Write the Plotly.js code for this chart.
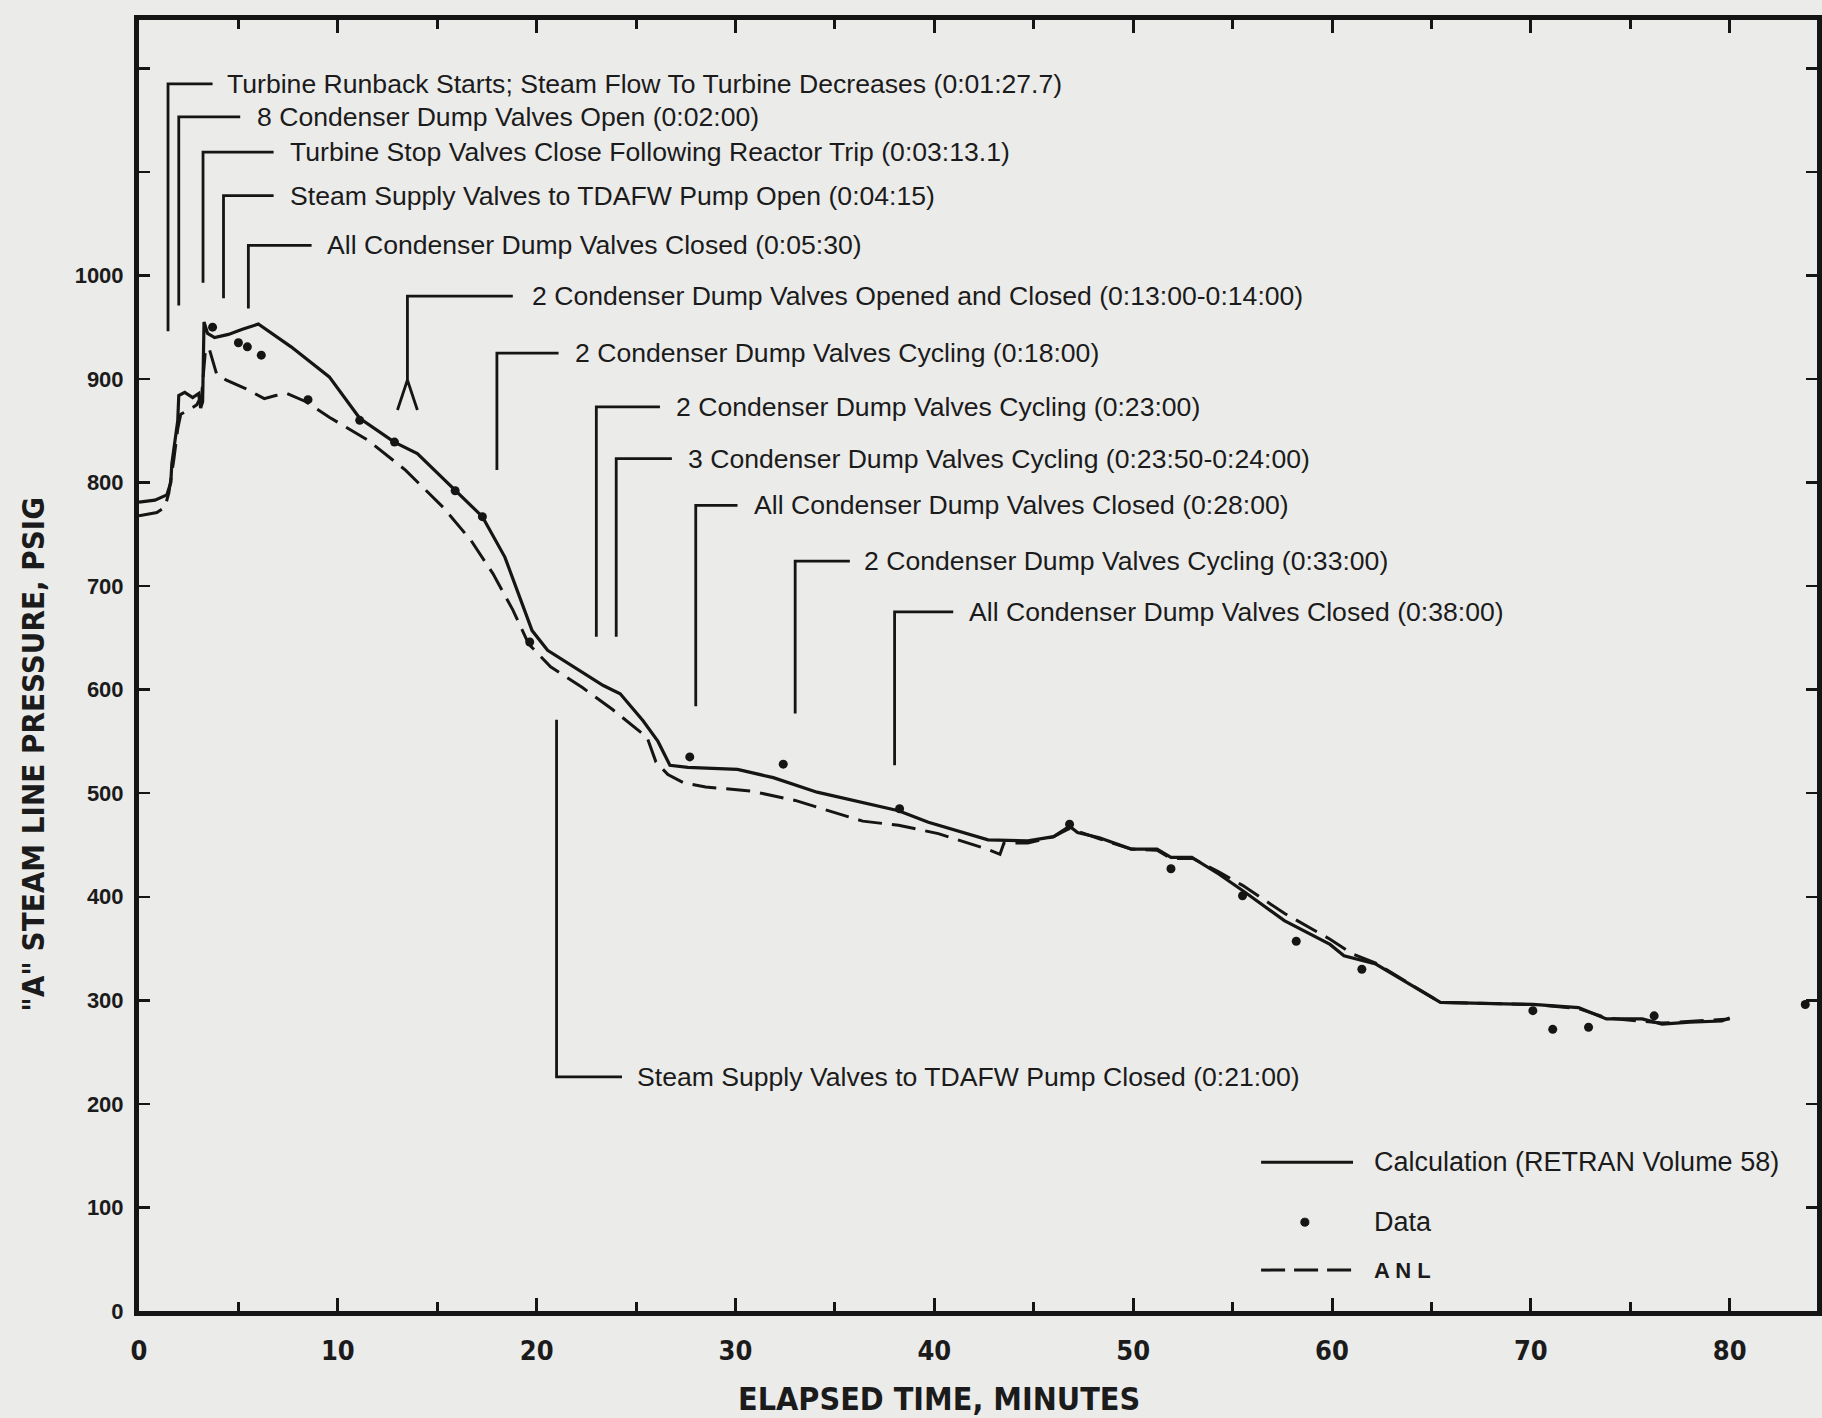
<!DOCTYPE html>
<html>
<head>
<meta charset="utf-8">
<script src="https://cdn.plot.ly/plotly-3.0.1.min.js"></script>
<style>
  html, body { margin: 0; padding: 0; background: #ebebea; }
  #chart { width: 1822px; height: 1418px; }
</style>
</head>
<body>
<div id="chart"></div>
<script>
// RETRAN calculation, steam line "A" pressure (psig) vs elapsed time (min)
const calcTime = [0.0, 0.8, 1.4, 1.6, 1.65, 1.95, 2.0, 2.3, 2.7, 3.0, 3.1, 3.2, 3.27, 3.45, 3.8, 4.5, 5.2, 6.0,
  7.65, 9.57, 11.1, 12.84, 14.0, 15.9, 17.27, 18.4, 19.2, 19.77, 20.55, 22.08, 23.35, 24.2, 24.7, 25.35, 26.1,
  26.7, 27.6, 30.1, 31.9, 34.1, 38.2, 39.7, 42.7, 44.7, 46.0, 46.8, 47.2, 48.3, 49.9, 51.2, 51.9, 52.95, 54.3,
  55.5, 57.6, 59.9, 60.6, 62.2, 65.45, 70.1, 72.4, 73.8, 75.6, 76.6, 78.0, 79.6, 80.0];
const calcPsi = [781, 783, 788, 800, 818, 860, 884, 887, 882, 886, 872, 878, 955, 944, 940, 943, 948, 953,
  931, 902, 862, 839, 828, 793, 767, 728, 686, 657, 638, 619, 604, 596, 585, 570, 550,
  527, 525, 523, 515, 501, 483, 472, 455, 454, 458, 468, 462, 457, 446, 446, 438, 438, 422,
  406, 377, 354, 343, 335, 298, 296, 293, 282, 282, 277, 279, 280, 283];

// ANL calculation
const anlTime = [0.0, 0.9, 1.3, 1.5, 1.75, 1.95, 2.1, 2.5, 2.9, 3.15, 3.35, 3.55, 3.9, 4.37, 5.33, 6.3, 6.87,
  7.45, 8.4, 9.57, 11.5, 13.4, 15.3, 16.7, 17.8, 18.8, 19.6, 20.7, 22.3, 23.8, 25.55, 26.0, 26.6, 27.4, 28.5,
  29.6, 30.8, 33.0, 36.4, 38.2, 40.2, 42.65, 43.3, 43.5, 44.7, 46.0, 46.8, 48.3, 49.9, 51.2, 51.9, 53.0, 54.3,
  55.5, 57.6, 59.9, 61.0, 62.2, 65.45, 70.1, 72.4, 73.8, 76.6, 80.0];
const anlPsi = [768, 771, 776, 790, 822, 852, 866, 870, 875, 884, 930, 928, 905, 899, 891, 881, 884,
  886, 878, 863, 841, 812, 776, 744, 712, 677, 644, 622, 602, 581, 554, 530, 518, 510, 506,
  504, 502, 493, 473, 469, 461, 446, 441, 452, 452, 458, 466, 456, 446, 445, 437, 437, 424,
  411, 384, 359, 345, 336, 298, 296, 292, 283, 278, 282];

// Plant data
const dataTime = [3.7, 5.0, 5.45, 6.15, 8.5, 11.1, 12.85, 15.9, 17.27, 19.65, 27.7, 32.4, 38.25, 46.8,
  51.9, 55.5, 58.2, 61.5, 70.1, 71.1, 72.9, 76.2, 83.8];
const dataPsi = [950, 935, 931, 923, 880, 860, 839, 792, 767, 646, 535, 528, 485, 470,
  427, 401, 357, 330, 290, 272, 274, 285, 296];

// Sequence of events (elapsed minutes)
const eventLabels = [
  'Turbine Runback Starts; Steam Flow To Turbine Decreases (0:01:27.7)',
  '8 Condenser Dump Valves Open (0:02:00)',
  'Turbine Stop Valves Close Following Reactor Trip (0:03:13.1)',
  'Steam Supply Valves to TDAFW Pump Open (0:04:15)',
  'All Condenser Dump Valves Closed (0:05:30)',
  '2 Condenser Dump Valves Opened and Closed (0:13:00-0:14:00)',
  '2 Condenser Dump Valves Cycling (0:18:00)',
  '2 Condenser Dump Valves Cycling (0:23:00)',
  '3 Condenser Dump Valves Cycling (0:23:50-0:24:00)',
  'All Condenser Dump Valves Closed (0:28:00)',
  '2 Condenser Dump Valves Cycling (0:33:00)',
  'All Condenser Dump Valves Closed (0:38:00)',
  'Steam Supply Valves to TDAFW Pump Closed (0:21:00)'
];
const eventTimes = [1.46, 2.0, 3.22, 4.25, 5.5, 13.5, 18, 23, 24, 28, 33, 38, 21];
const eventRange = [13, 14]; // opened and closed interval

const xTickVals = [0, 10, 20, 30, 40, 50, 60, 70, 80];
const xTickText = ['0', '10', '20', '30', '40', '50', '60', '70', '80'];
const yTickVals = [0, 100, 200, 300, 400, 500, 600, 700, 800, 900, 1000, 1100, 1200];
const yTickText = ['0', '100', '200', '300', '400', '500', '600', '700', '800', '900', '1000', '', ''];

// ---- styling / layout ----
const INK = '#151515';
const BG = '#ebebea';
const TEXT_FONT = { family: 'Liberation Sans, Arial, sans-serif', size: 26.6, color: '#1b1b1b' };
const NARROW = 'Liberation Sans Narrow, Arial Narrow, DejaVu Sans Condensed, Liberation Sans, sans-serif';

// callout leader geometry: horizontal leg height (hy), far end of stem (vy),
// end of horizontal leg (hEnd) and label start (tx)
const callouts = [
  { hy: 1185, vy: 946, hEnd: 3.7, tx: 4.3 },
  { hy: 1153, vy: 971, hEnd: 5.09, tx: 5.83 },
  { hy: 1119, vy: 993, hEnd: 6.77, tx: 7.5 },
  { hy: 1077, vy: 978, hEnd: 6.77, tx: 7.5 },
  { hy: 1029, vy: 968, hEnd: 8.68, tx: 9.35 },
  { hy: 980, vy: 899, hEnd: 18.8, tx: 19.68, forkY: 870 },
  { hy: 925, vy: 812, hEnd: 21.1, tx: 21.85 },
  { hy: 873, vy: 651, hEnd: 26.2, tx: 26.9 },
  { hy: 823, vy: 651, hEnd: 26.8, tx: 27.5 },
  { hy: 778, vy: 584, hEnd: 30.1, tx: 30.84 },
  { hy: 724, vy: 577, hEnd: 35.75, tx: 36.38 },
  { hy: 675, vy: 527, hEnd: 40.95, tx: 41.66 },
  { hy: 226, vy: 571, hEnd: 24.29, tx: 24.93 }
];

const shapes = [];
const annotations = [];

callouts.forEach((c, i) => {
  const t = eventTimes[i];
  let p = `M${t},${c.vy} L${t},${c.hy} L${c.hEnd},${c.hy}`;
  if (c.forkY !== undefined) {
    p = `M${eventRange[0]},${c.forkY} L${t},${c.vy} L${eventRange[1]},${c.forkY} ` + p;
  }
  shapes.push({ type: 'path', xref: 'x', yref: 'y', path: p, line: { color: INK, width: 2.8 }, layer: 'above' });
  annotations.push({
    x: c.tx, y: c.hy, xref: 'x', yref: 'y', text: eventLabels[i], showarrow: false,
    xanchor: 'left', yanchor: 'middle', font: TEXT_FONT
  });
});

// key in the lower right
const key = [
  { y: 0.1152, label: 'Calculation (RETRAN Volume 58)', kind: 'solid' },
  { y: 0.0688, label: 'Data', kind: 'dot' },
  { y: 0.0317, label: 'A N L', kind: 'dash' }
];
key.forEach(k => {
  if (k.kind === 'dot') {
    shapes.push({ type: 'circle', xref: 'paper', yref: 'paper', x0: 0.6924, x1: 0.6972,
      y0: k.y - 0.0031, y1: k.y + 0.0031, fillcolor: INK, line: { color: INK, width: 1 } });
  } else {
    shapes.push({ type: 'line', xref: 'paper', yref: 'paper', x0: 0.6687, x1: 0.7235, y0: k.y, y1: k.y,
      line: { color: INK, width: 3, dash: k.kind === 'dash' ? '24px,9px' : 'solid' } });
  }
  annotations.push({
    x: 0.7348, y: k.y, xref: 'paper', yref: 'paper', text: k.label, showarrow: false,
    xanchor: 'left', yanchor: 'middle',
    font: { family: 'Liberation Sans, Arial, sans-serif', size: k.kind === 'dash' ? 22 : 27, color: '#1b1b1b',
            weight: k.kind === 'dash' ? 'bold' : 'normal' }
  });
});

// axis titles
annotations.push({
  x: 0.477, y: -0.068, xref: 'paper', yref: 'paper', text: 'ELAPSED TIME, MINUTES', showarrow: false,
  xanchor: 'center', yanchor: 'middle', font: { family: NARROW, size: 32, color: '#1b1b1b', weight: 'bold' }
});
annotations.push({
  x: -0.0632, y: 0.4316, xref: 'paper', yref: 'paper', text: '"A" STEAM LINE PRESSURE, PSIG', showarrow: false,
  textangle: -90, xanchor: 'center', yanchor: 'middle',
  font: { family: NARROW, size: 31, color: '#1b1b1b', weight: 'bold' }
});

const traces = [
  { x: calcTime, y: calcPsi, type: 'scatter', mode: 'lines', name: 'Calculation (RETRAN Volume 58)',
    line: { color: INK, width: 3.2 }, showlegend: false },
  { x: anlTime, y: anlPsi, type: 'scatter', mode: 'lines', name: 'ANL',
    line: { color: INK, width: 3, dash: '24px,10px' }, showlegend: false },
  { x: dataTime, y: dataPsi, type: 'scatter', mode: 'markers', name: 'Data',
    marker: { color: INK, size: 9 }, showlegend: false }
];

const layout = {
  width: 1822, height: 1418,
  margin: { l: 139, r: 5, t: 20, b: 107 },
  paper_bgcolor: BG, plot_bgcolor: BG,
  showlegend: false,
  xaxis: {
    range: [0, 84.39], showgrid: false, zeroline: false,
    showline: true, linecolor: INK, linewidth: 5, mirror: 'ticks',
    ticks: 'inside', ticklen: 13, tickwidth: 3, tickcolor: INK,
    tickvals: xTickVals, ticktext: xTickText,
    minor: { dtick: 5, tick0: 0, ticks: 'inside', ticklen: 9, tickwidth: 3, tickcolor: INK },
    ticklabelstandoff: 12,
    tickfont: { family: NARROW, size: 27, color: '#1b1b1b', weight: 'bold' }
  },
  yaxis: {
    range: [0, 1246.6], showgrid: false, zeroline: false,
    showline: true, linecolor: INK, linewidth: 5, mirror: 'ticks',
    ticks: 'inside', ticklen: 11, tickwidth: 2.5, tickcolor: INK,
    tickvals: yTickVals, ticktext: yTickText,
    ticklabelstandoff: 6,
    tickfont: { family: 'Liberation Sans, Arial, sans-serif', size: 22, color: '#1b1b1b', weight: 'bold' }
  },
  shapes: shapes,
  annotations: annotations
};

Plotly.newPlot('chart', traces, layout, { displayModeBar: false, staticPlot: true });
</script>
</body>
</html>
